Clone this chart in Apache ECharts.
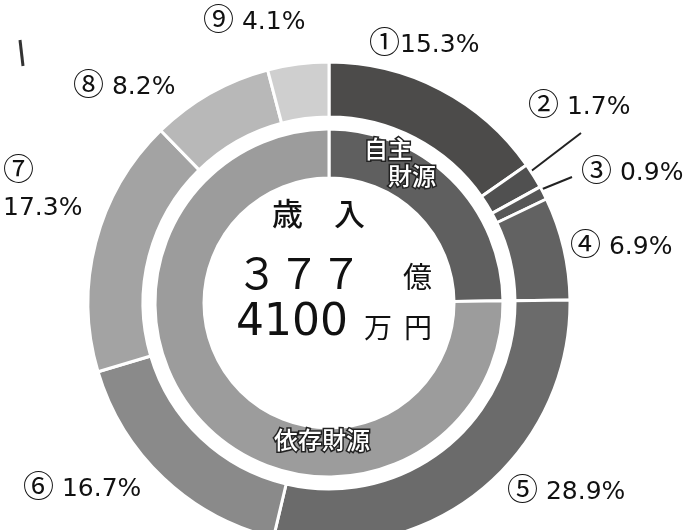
<!DOCTYPE html>
<html><head><meta charset="utf-8">
<script src="https://cdn.jsdelivr.net/npm/echarts@6/dist/echarts.min.js"></script>
<style>html,body{margin:0;padding:0;background:#fff}#c{width:697px;height:530px}</style>
</head><body><div id="c"></div>
<script>
// Outer ring: revenue items (%)
const outerNames = ['①', '②', '③', '④', '⑤', '⑥', '⑦', '⑧', '⑨'];
const outerValues = [15.3, 1.7, 0.9, 6.9, 28.9, 16.7, 17.3, 8.2, 4.1];
const outerSep = ['', ' ', ' ', ' ', ' ', ' ', '\n', ' ', ' '];
const outerColors = ['#4c4b4a', '#505050', '#575757', '#626262', '#6b6b6b', '#8a8a8a', '#a3a3a3', '#b8b8b8', '#cfcfcf'];
// Inner ring: 自主財源 / 依存財源
const innerNames = ['自主財源', '依存財源'];
const innerLabels = ['自主\n　財源', '依存財源'];
const innerValues = [24.8, 75.2];
const innerColors = ['#5f5f5f', '#9c9c9c'];
// Center text
const centerTitle = '歳　入';
const centerLine1 = ['３７７', '億'];
const centerLine2 = ['4100', '万', '円'];

const FONT = '"Noto Sans CJK JP", "Noto Sans", sans-serif';
const NUMFONT = '"DejaVu Sans", "Noto Sans CJK JP", sans-serif';
const CX = 329, CY = 303;

// label placement (style)
const labelPos = [
  {x: 369, y: 45}, {x: 528, y: 107}, {x: 581, y: 173}, {x: 570, y: 247},
  {x: 507, y: 492}, {x: 23, y: 489}, {x: 3, y: 190}, {x: 73, y: 87}, {x: 203, y: 22}
];
const linePts = {
  1: [[530, 172], [581, 133]],
  2: [[540, 190], [572, 177]]
};

const chart = echarts.init(document.getElementById('c'), null, {renderer: 'canvas'});
chart.setOption({
  animation: false,
  backgroundColor: '#fff',
  series: [
    {
      type: 'pie',
      center: [CX, CY],
      radius: [186, 241],
      startAngle: 90,
      clockwise: true,
      avoidLabelOverlap: false,
      silent: true,
      itemStyle: {borderColor: '#fff', borderWidth: 3},
      data: outerNames.map((n, i) => ({
        name: n, value: outerValues[i],
        itemStyle: {color: outerColors[i]},
        label: {formatter: '{c|' + n + '}' + (outerSep[i] === '\n' ? '\n' : '') + '{t|' + (outerSep[i] === ' ' ? ' ' : '') + outerValues[i].toFixed(1) + '%}'},
        labelLine: {show: !!linePts[i]}
      })),
      label: {
        show: true, position: 'outside', color: '#111',
        rich: {
          c: {fontFamily: FONT, fontSize: 31, color: '#111', lineHeight: 36, padding: [0, 0, 7, 0]},
          t: {fontFamily: NUMFONT, fontSize: 25, color: '#111', lineHeight: 36}
        }
      },
      labelLine: {show: true, lineStyle: {color: '#222', width: 2}},
      labelLayout: function (p) {
        const pos = labelPos[p.dataIndex];
        const r = {x: pos.x, y: pos.y, align: 'left', verticalAlign: 'middle'};
        if (linePts[p.dataIndex]) r.labelLinePoints = [linePts[p.dataIndex][0], linePts[p.dataIndex][0], linePts[p.dataIndex][1]];
        return r;
      }
    },
    {
      type: 'pie',
      center: [CX, CY],
      radius: [125, 174],
      startAngle: 90,
      clockwise: true,
      silent: true,
      itemStyle: {borderColor: '#fff', borderWidth: 3},
      data: innerNames.map((n, i) => ({
        name: n, value: innerValues[i], itemStyle: {color: innerColors[i]},
        label: {formatter: innerLabels[i]}
      })),
      label: {
        show: true, position: 'inside', color: '#fff',
        fontFamily: FONT, fontSize: 24, lineHeight: 27, fontWeight: 500,
        textBorderColor: '#222', textBorderWidth: 3
      },
      labelLine: {show: false},
      labelLayout: function (p) {
        if (p.dataIndex === 0) return {x: 364, y: 162, align: 'left', verticalAlign: 'middle'};
        return {x: 322, y: 440, align: 'center', verticalAlign: 'middle'};
      }
    }
  ],
  graphic: [
    {type: 'line', shape: {x1: 20, y1: 40, x2: 23, y2: 66}, style: {stroke: '#333', lineWidth: 3}},
    {type: 'text', left: 272, top: 198, style: {text: centerTitle, font: '500 31px ' + FONT, fill: '#111'}},
    {type: 'text', left: 236, top: 252, style: {text: centerLine1[0], font: '42px ' + FONT, fill: '#111'}},
    {type: 'text', left: 403, top: 262, style: {text: centerLine1[1], font: '29px ' + FONT, fill: '#111'}},
    {type: 'text', left: 236, top: 302, style: {text: centerLine2[0], font: '44px ' + NUMFONT, fill: '#111'}},
    {type: 'text', left: 364, top: 313, style: {text: centerLine2[1], font: '28px ' + FONT, fill: '#111'}},
    {type: 'text', left: 404, top: 313, style: {text: centerLine2[2], font: '28px ' + FONT, fill: '#111'}}
  ]
});
</script>
</body></html>
